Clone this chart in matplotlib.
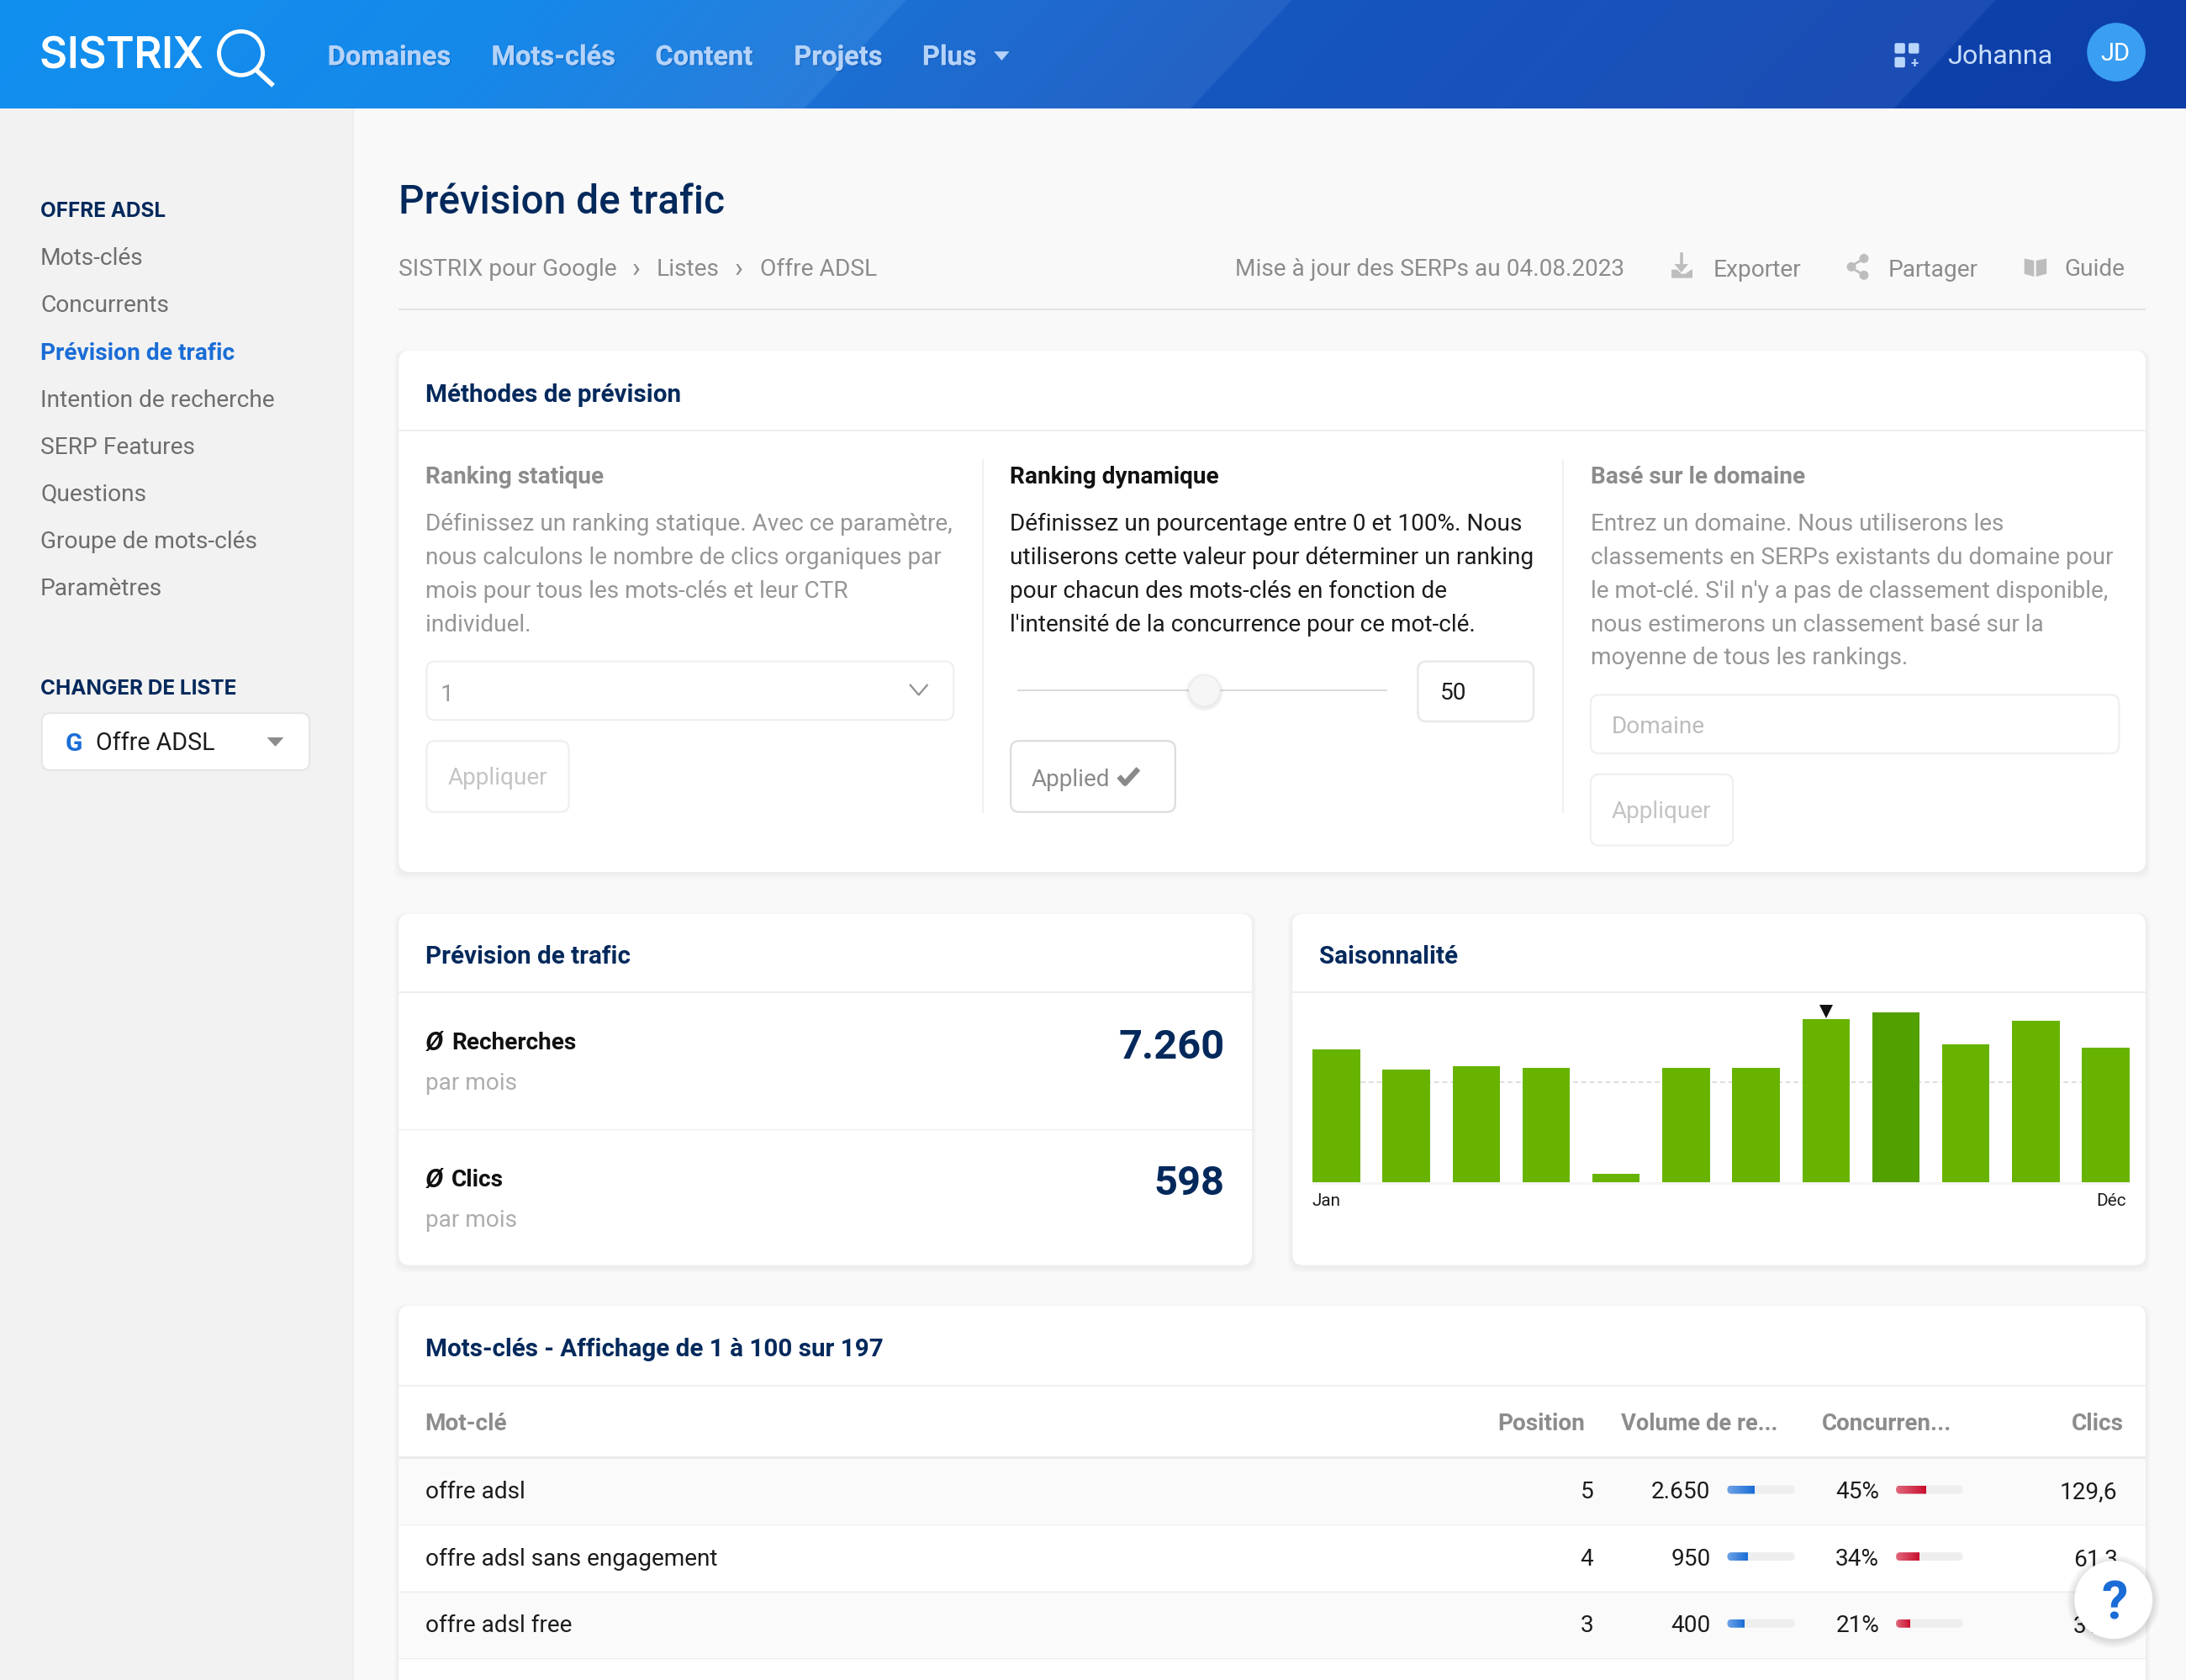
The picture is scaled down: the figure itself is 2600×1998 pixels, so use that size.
import matplotlib
matplotlib.use("Agg")
import matplotlib.pyplot as plt
import matplotlib.patheffects as pe
from matplotlib.patches import FancyBboxPatch, Circle, Polygon
from matplotlib.colors import to_rgb
import numpy as np

plt.rcParams['font.family'] = ['Roboto', 'DejaVu Sans']

nav_items = ["Domaines", "Mots-clés", "Content", "Projets", "Plus"]
sidebar_items = ["Mots-clés", "Concurrents", "Prévision de trafic", "Intention de recherche",
                 "SERP Features", "Questions", "Groupe de mots-clés", "Paramètres"]
static_lines = ["Définissez un ranking statique. Avec ce paramètre,",
                "nous calculons le nombre de clics organiques par",
                "mois pour tous les mots-clés et leur CTR",
                "individuel."]
dynamic_lines = ["Définissez un pourcentage entre 0 et 100%. Nous",
                 "utiliserons cette valeur pour déterminer un ranking",
                 "pour chacun des mots-clés en fonction de",
                 "l'intensité de la concurrence pour ce mot-clé."]
domain_lines = ["Entrez un domaine. Nous utiliserons les",
                "classements en SERPs existants du domaine pour",
                "le mot-clé. S'il n'y a pas de classement disponible,",
                "nous estimerons un classement basé sur la",
                "moyenne de tous les rankings."]

season_values = [78, 66, 68, 67, 5, 67, 67, 96, 100, 81, 95, 79]
season_mean = 59
season_peak = 8
season_current = 7

table_keywords = ["offre adsl", "offre adsl sans engagement", "offre adsl free"]
table_position = [5, 4, 3]
table_volume = ["2.650", "950", "400"]
table_volume_fill = [40, 30, 25]
table_competition = [45, 34, 21]
table_clicks = ["129,6", "61,3", "31,1"]

S = 2600 / 1568
NAVY = "#03295c"
BLUE = "#1a6dd6"
GREY = "#8c8c8c"
BODY = "#969696"
DARK = "#1c1c1c"
H2 = 17.85
TXT = 16.9
INTER = ["Inter", "DejaVu Sans"]

fig = plt.figure(figsize=(13, 9.995), dpi=200, facecolor="#f9f9f9")
ax = fig.add_axes([0, 0, 1, 1])
ax.set_xlim(0, 1568)
ax.set_ylim(1999 / S, 0)
ax.axis("off")


def t(x, y, s, px=TXT, color=DARK, weight="normal", ha="left", z=6, **kw):
    return ax.text(x, y - 0.4 + 0.36 * px, s, fontsize=px * 0.597, color=color, fontweight=weight,
                   ha=ha, va="baseline", zorder=z, **kw)


def box(x0, y0, x1, y1, r=6, fc="white", ec="none", lw=0, z=2):
    p = FancyBboxPatch((x0, y0), x1 - x0, y1 - y0, boxstyle=f"round,pad=0,rounding_size={r}",
                       fc=fc, ec=ec, lw=lw, zorder=z)
    ax.add_patch(p)
    return p


def hline(x0, x1, y, color="#eeeeee", lw=0.7, z=3):
    ax.plot([x0, x1], [y, y], color=color, lw=lw, zorder=z, solid_capstyle="butt")


def vline(x, y0, y1, color="#eeeeee", lw=0.6, z=3):
    ax.plot([x, x], [y0, y1], color=color, lw=lw, zorder=z, solid_capstyle="butt")


def card(x0, y0, x1, y1):
    for i in range(6, 0, -1):
        p = box(x0 - i * 0.6, y0 - i * 0.3 + 1, x1 + i * 0.6, y1 + i * 0.8 + 1, r=8, fc="black", z=1)
        p.set_alpha(0.006)
    box(x0, y0, x1, y1, r=8, z=2)


def grad_bar(x0, x1, y, h, c0, c1, z=5):
    col = np.linspace(to_rgb(c0), to_rgb(c1), 32)[None, :, :]
    im = ax.imshow(col, extent=(x0, x1, y + h / 2, y - h / 2), aspect="auto", zorder=z, interpolation="bilinear")
    clip = FancyBboxPatch((x0, y - h / 2), x1 - x0 + 4, h, boxstyle=f"round,pad=0,rounding_size={h / 2}",
                          fc="none", ec="none")
    ax.add_patch(clip)
    im.set_clip_path(clip)


# header, sawtooth gradient along the slanted bands
stops_u = [-73, 300, 577, 578, 854, 855, 1359, 1360, 1568]
stops_c = ["#1190f0", "#1589ea", "#2a7cd9", "#1b6fd3", "#2562c5", "#1556bf", "#1c4db4", "#0f41ab", "#0d3da6"]
gx, gy = np.meshgrid(np.linspace(0, 1568, 1300), np.linspace(0, 78.5, 66))
gu = gx - 73 * (1 - gy / 78.5)
rgb = np.array([to_rgb(c) for c in stops_c])
header = np.dstack([np.interp(gu, stops_u, rgb[:, k]) for k in range(3)])
ax.imshow(header, extent=(0, 1568, 78.5, 0), aspect="auto", zorder=1)
ax.set_xlim(0, 1568)
ax.set_ylim(1999 / S, 0)

# logo
logo = t(28.5, 38.5, "SISTRIX", px=30.5, color="white", weight="medium", family=INTER)
logo.set_path_effects([pe.withStroke(linewidth=0.3, foreground="white")])
ax.add_patch(Circle((172.8, 38.8), 15.7, fc="none", ec="white", lw=1.75, zorder=6))
ax.plot([184, 196], [51, 62], color="white", lw=2.0, zorder=6, solid_capstyle="butt")

nav_shadow = [pe.withSimplePatchShadow(offset=(0.5, -0.5), shadow_rgbFace="#0a3f8f", alpha=0.35), pe.Normal()]
for label, x in zip(nav_items, [235, 352.5, 470, 569.5, 661.5]):
    t(x, 40.5, label, px=19.65, color="#b5d3f8", weight="bold", path_effects=nav_shadow)
ax.add_patch(Polygon([(713, 37.5), (724, 37.5), (718.5, 44)], fc="#b5d3f8", ec="none", zorder=6))

for x, y in [(1359, 31.5), (1369, 31.5), (1359, 41.5)]:
    box(x, y, x + 7.5, y + 7.5, r=1.2, fc="#b9d6fb", z=6)
t(1373, 45, "+", px=10, color="#b9d6fb", weight="bold", ha="center")
t(1397, 39.5, "Johanna", px=19.5, color="#c9dffa")
ax.add_patch(Circle((1518, 38), 21, fc="#3a9ff2", ec="none", zorder=5))
t(1517, 37.5, "JD", px=17.5, color="white", ha="center")

# sidebar
ax.fill_between([0, 252.5], 78.5, 1999 / S, color="#f2f2f2", zorder=0.5, lw=0)
vline(253, 78.5, 1999 / S, color="#ebebeb", lw=0.6)
t(29, 151, "OFFRE ADSL", px=14.7, color=NAVY, weight="bold", family=INTER)
for i, label in enumerate(sidebar_items):
    active = i == 2
    t(29, 184.5 + i * 33.8, label, px=17, color=BLUE if active else "#6e6e6e", weight="bold" if active else "normal")
t(29, 493.5, "CHANGER DE LISTE", px=14.7, color=NAVY, weight="bold", family=INTER)
box(30, 512, 222, 553, r=6, fc="white", ec="#e6e6e6", lw=0.8)
t(53, 532.5, "G", px=18, color=BLUE, weight="bold", ha="center")
t(69, 532, "Offre ADSL", px=17.3, color=DARK)
ax.add_patch(Polygon([(191.5, 529.5), (203.5, 529.5), (197.5, 536)], fc=GREY, ec="none", zorder=6))

# title row
t(286, 143, "Prévision de trafic", px=28.8, color=NAVY, weight="medium")
t(286, 192, "SISTRIX pour Google", px=17, color=GREY)
t(456, 192, "›", px=20, color=GREY, ha="center")
t(471, 192, "Listes", px=17, color=GREY)
t(530, 192, "›", px=20, color=GREY, ha="center")
t(545, 192, "Offre ADSL", px=17, color=GREY)
t(1165, 192, "Mise à jour des SERPs au 04.08.2023", px=16.9, color=GREY, ha="right")
t(1229, 192.5, "Exporter", px=17, color=GREY)
t(1354, 192.5, "Partager", px=17, color=GREY)
t(1481, 192, "Guide", px=17, color=GREY)
hline(286, 1539, 222.5, color="#e4e4e4", lw=0.8)

# toolbar icons
ICON = "#bdbdbd"
ax.plot([1206, 1206], [183, 193], color=ICON, lw=1.3, zorder=6)
ax.add_patch(Polygon([(1201, 190), (1211, 190), (1206, 196)], fc=ICON, ec="none", zorder=6))
ax.add_patch(Polygon([(1199, 194), (1203, 194), (1206, 197), (1209, 197), (1213, 194), (1214, 194), (1214, 200), (1199, 200)],
                     fc=ICON, ec="none", zorder=6))
ax.plot([1337, 1327, 1337], [186, 192, 198], color=ICON, lw=1, zorder=6)
for x, y in [(1337, 186), (1328, 192), (1337, 198)]:
    ax.add_patch(Circle((x, y), 3.3, fc=ICON, ec="none", zorder=6))
ax.add_patch(Polygon([(1452, 186), (1459, 187.5), (1459, 199), (1452, 197)], fc=ICON, ec="none", zorder=6))
ax.add_patch(Polygon([(1468, 186), (1460.5, 187.5), (1460.5, 199), (1468, 197)], fc=ICON, ec="none", zorder=6))

# methods card
card(286, 252, 1539, 626)
t(305, 282, "Méthodes de prévision", px=H2, color=NAVY, weight="bold")
hline(286, 1539, 309.5)
vline(705, 330, 584)
vline(1121, 330, 584)

t(305, 341, "Ranking statique", px=TXT, color=GREY, weight="bold")
for i, line in enumerate(static_lines):
    t(305, 375 + i * 24, line, color=BODY)
box(306, 475, 684, 517, r=6, ec="#efefef", lw=0.8, z=3)
t(316, 497, "1", color="#9a9a9a")
ax.plot([653, 659, 665], [492, 499, 492], color="#8f8f8f", lw=0.8, zorder=6)
box(306, 532, 408, 583, r=6, ec="#efefef", lw=0.8, z=3)
t(321, 557, "Appliquer", color="#c4c4c4")

t(724, 341, "Ranking dynamique", px=TXT, color="#111111", weight="bold")
for i, line in enumerate(dynamic_lines):
    t(724, 375 + i * 24, line, color=DARK)
hline(730, 995, 495.5, color="#d8d8d8", lw=0.7)
for i in range(4, 0, -1):
    ax.add_patch(Circle((864, 497), 11 + i * 0.7, fc="black", alpha=0.02, ec="none", zorder=4))
ax.add_patch(Circle((864, 496), 11, fc="#f6f6f6", ec="#ececec", lw=0.4, zorder=5))
box(1017, 475, 1100, 518, r=6, ec="#e8e8e8", lw=0.9, z=3)
t(1033, 496, "50", color=DARK)
box(725, 532, 843, 583, r=6, ec="#dcdcdc", lw=0.8, z=3)
t(740, 558, "Applied", color="#8a8a8a")
ax.plot([802.5, 807, 816.5], [557.5, 562.5, 552], color="#8a8a8a", lw=2.3, zorder=6, solid_capstyle="butt")

t(1141, 341, "Basé sur le domaine", px=TXT, color=GREY, weight="bold")
for i, line in enumerate(domain_lines):
    t(1141, 375 + i * 24, line, color=BODY)
box(1141, 499, 1520, 541, r=6, ec="#efefef", lw=0.8, z=3)
t(1156, 520, "Domaine", color="#bdbdbd")
box(1141, 556, 1243, 607, r=6, ec="#efefef", lw=0.8, z=3)
t(1156, 581, "Appliquer", color="#c4c4c4")

# traffic card
card(286, 656, 898, 908)
t(305, 685, "Prévision de trafic", px=H2, color=NAVY, weight="bold")
hline(286, 898, 712.5)
hline(286, 898, 810.5, lw=0.5)
t(305, 747, "Ø", px=19, color="#111111", weight="bold", style="italic")
t(324, 747, "Recherches", color="#111111", weight="bold")
t(878.5, 749, "7.260", px=29.5, color=NAVY, weight="bold", ha="right")
t(305, 776, "par mois", color="#adadad")
t(305, 845, "Ø", px=19, color="#111111", weight="bold", style="italic")
t(324, 845, "Clics", color="#111111", weight="bold")
t(878.5, 847, "598", px=29.5, color=NAVY, weight="bold", ha="right")
t(305, 874, "par mois", color="#adadad")

# seasonality card
card(927, 656, 1539, 908)
t(946, 685, "Saisonnalité", px=H2, color=NAVY, weight="bold")
hline(927, 1539, 712.5)

fig_w, fig_h = 1568, 1999 / S
sax = fig.add_axes([941.5 / fig_w, 1 - 848.5 / fig_h, (1527.5 - 941.5) / fig_w, (848.5 - 726.5) / fig_h])
sax.patch.set_alpha(0)
sax.set_xlim(-0.339, 11.339)
sax.set_ylim(0, 100)
sax.axis("off")
months = np.arange(len(season_values))
bar_colors = ["#52a000" if i == season_peak else "#68b300" for i in months]
sax.hlines(season_mean, 0, 11, color="#dedede", lw=0.7, linestyles=(0, (3, 2)), zorder=1)
sax.bar(months, season_values, width=0.677, color=bar_colors, zorder=2)
sax.plot([season_current], [100.5], marker="v", ms=5.6, color="#111111", clip_on=False, zorder=3, mew=0)
hline(941, 1527, 849, color="#f4f4f4", lw=1)
t(941, 860.5, "Jan", px=12.5, color=DARK)
t(1525, 860.5, "Déc", px=12.5, color=DARK, ha="right")

# keyword table
card(286, 937, 1539, 1300)
t(305, 967, "Mots-clés - Affichage de 1 à 100 sur 197", px=H2, color=NAVY, weight="bold")
hline(286, 1539, 994.5)
t(305, 1020, "Mot-clé", color=GREY, weight="bold")
t(1137, 1020, "Position", color=GREY, weight="bold", ha="right")
t(1163, 1020, "Volume de re...", px=16.5, color=GREY, weight="bold")
t(1307, 1020, "Concurren...", px=16.7, color=GREY, weight="bold")
t(1523, 1020, "Clics", color=GREY, weight="bold", ha="right")
hline(286, 1539, 1045.5, color="#e8e8e8", lw=0.9)

for i, keyword in enumerate(table_keywords):
    y = 1069 + i * 48
    if i % 2 == 0:
        ax.fill_between([286, 1539], y - 23.5, y + 24.5, color="#fafafa", zorder=2.5, lw=0)
    hline(286, 1539, y + 25, lw=0.5)
    t(305, y, keyword, color=DARK)
    t(1143, y, str(table_position[i]), color=DARK, ha="right")
    t(1227, y, table_volume[i], color=DARK, ha="right")
    box(1239, y - 3, 1287.5, y + 3, r=3, fc="#eeeeee", z=4)
    grad_bar(1239, 1239 + 48.5 * table_volume_fill[i] / 100, y, 6, "#6fa3e6", "#1a6dd6")
    t(1348, y, f"{table_competition[i]}%", color=DARK, ha="right")
    box(1360, y - 3, 1408, y + 3, r=3, fc="#eeeeee", z=4)
    grad_bar(1360, 1360 + 48 * table_competition[i] / 100, y, 6, "#e0677c", "#c8102e")
    t(1519, y, table_clicks[i], color=DARK, ha="right")

# help bubble
for i in range(6, 0, -1):
    ax.add_patch(Circle((1516, 1149), 28 + i * 0.9, fc="black", alpha=0.018, ec="none", zorder=7))
ax.add_patch(Circle((1516, 1148), 28, fc="white", ec="none", zorder=8))
t(1517, 1148, "?", px=38, color=BLUE, weight="bold", ha="center", z=9)

fig.savefig("out.png", dpi=200, facecolor=fig.get_facecolor())
